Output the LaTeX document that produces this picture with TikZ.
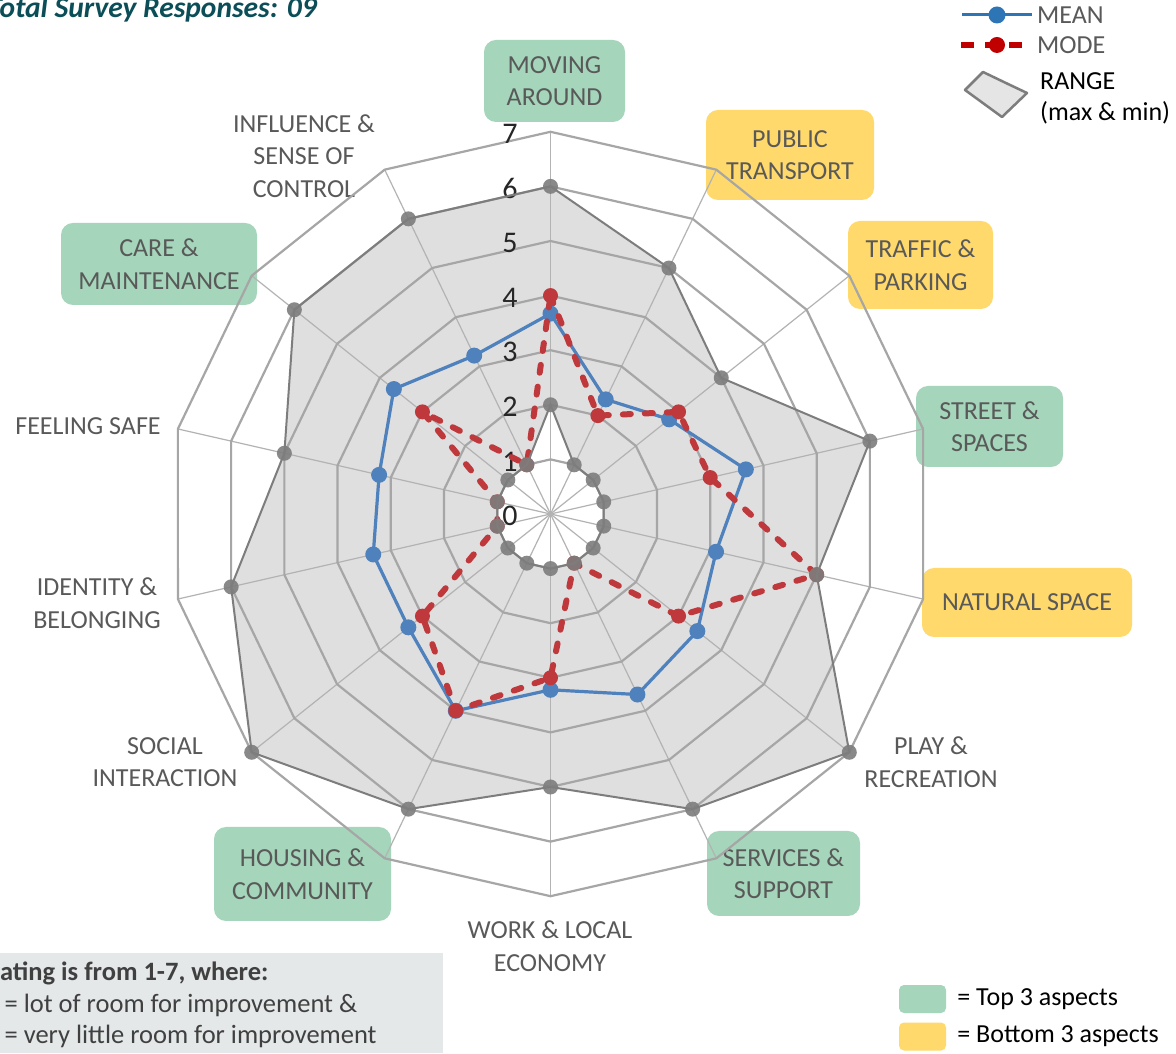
\documentclass[tikz,border=0pt]{standalone}
\usepackage{fontspec}
\setmainfont{Carlito}
\usetikzlibrary{positioning}

\definecolor{topgreen}{RGB}{165,213,186}
\definecolor{lowyellow}{RGB}{255,217,107}
\definecolor{labelgray}{RGB}{89,89,89}
\definecolor{areagray}{RGB}{223,223,223}
\definecolor{gridgray}{RGB}{166,166,166}
\definecolor{rangegray}{RGB}{125,125,125}
\definecolor{meanblue}{RGB}{79,129,189}
\definecolor{modered}{RGB}{190,56,60}
\definecolor{legblue}{RGB}{46,117,182}
\definecolor{legred}{RGB}{192,0,0}
\definecolor{notegray}{RGB}{228,232,232}
\definecolor{titleteal}{RGB}{12,78,88}

\def\unitR{54.6}

\begin{document}
\begin{tikzpicture}[x=1pt, y=1pt,
   aspect/.style={align=center, text=labelgray, font=\fontsize{26}{32.5}\selectfont, inner sep=0pt},
   topA/.style={aspect, fill=topgreen, rounded corners=12pt},
   lowA/.style={aspect, fill=lowyellow, rounded corners=12pt},
   ring/.style={draw=gridgray, line width=2.2pt},
   spoke/.style={draw=gridgray!85, line width=1.2pt},
   tick/.style={text=black!85, font=\fontsize{30}{30}\selectfont, inner sep=0pt},
   meanline/.style={draw=meanblue, line width=3.2pt, line join=round},
   modeline/.style={draw=modered, line width=6pt, line cap=round, dash pattern=on 8pt off 14pt},
   rangeline/.style={draw=rangegray, line width=2pt},
   legtext/.style={font=\fontsize{26}{31}\selectfont, inner sep=0pt},
   swatch/.style={minimum width=47pt, minimum height=28pt, rounded corners=5pt, inner sep=0pt}]
\useasboundingbox (0,0) rectangle (1176,1053);
\clip (0,0) rectangle (1176,1053);
\fill[white] (0,0) rectangle (1176,1053);

% aspect labels
\node[topA, minimum width=141pt, minimum height=82pt] (moving) at (554.5,972) {MOVING\\AROUND};
\node[lowA, minimum width=168pt, minimum height=90pt] (transport) at (790,898) {PUBLIC\\TRANSPORT};
\node[lowA, minimum width=145pt, minimum height=88pt] (traffic) at (920.5,788) {TRAFFIC \&\\PARKING};
\node[topA, minimum width=147pt, minimum height=81pt] (street) at (989.5,626.5) {STREET \&\\SPACES};
\node[lowA, minimum width=210pt, minimum height=69pt] (natural) at (1027,450.5) {NATURAL SPACE};
\node[aspect] (play) at (931,291) {PLAY \&\\RECREATION};
\node[topA, minimum width=153pt, minimum height=85pt] (services) at (783.5,179.5) {SERVICES \&\\SUPPORT};
\node[aspect] (work) at (550,107) {WORK \& LOCAL\\ECONOMY};
\node[topA, minimum width=177pt, minimum height=94pt] (housing) at (302.5,179) {HOUSING \&\\COMMUNITY};
\node[aspect] (social) at (165,291) {SOCIAL\\INTERACTION};
\node[aspect] (identity) at (97,450) {IDENTITY \&\\BELONGING};
\node[aspect] (safe) at (88,627) {FEELING SAFE};
\node[topA, minimum width=196pt, minimum height=82pt] (care) at (159,789) {CARE \&\\MAINTENANCE};
\node[aspect] (influence) at (304,897) {INFLUENCE \&\\SENSE OF\\CONTROL};

\begin{scope}[shift={(550.5,539)}]
% series values, clockwise from the top
\foreach \v [count=\i from 0] in {6,5,4,6,5,7,6,5,6,7,6,5,6,6}
  \coordinate (max\i) at ({90-\i*360/14}:{\v*\unitR});
\foreach \v [count=\i from 0] in {2,1,1,1,1,1,1,1,1,1,1,1,1,1}
  \coordinate (min\i) at ({90-\i*360/14}:{\v*\unitR});
\foreach \v [count=\i from 0] in {3.67,2.33,2.78,3.67,3.11,3.44,3.67,3.22,4,3.33,3.33,3.22,3.67,3.22}
  \coordinate (mean\i) at ({90-\i*360/14}:{\v*\unitR});
\foreach \v [count=\i from 0] in {4,2,3,3,5,3,1,3,4,3,1,1,3,1}
  \coordinate (mode\i) at ({90-\i*360/14}:{\v*\unitR});

\fill[areagray] (max0) \foreach \i in {1,...,13}{ -- (max\i)} -- cycle;
\fill[white] (min0) \foreach \i in {1,...,13}{ -- (min\i)} -- cycle;

% grid
\foreach \i in {0,...,13}
  \draw[spoke] (0,0) -- ({90-\i*360/14}:{7*\unitR});
\foreach \k in {1,...,7}
  \draw[ring] (90:{\k*\unitR}) \foreach \i in {1,...,13}{ -- ({90-\i*360/14}:{\k*\unitR})} -- cycle;
\foreach \k in {0,...,7}
  \node[tick] (tick\k) at (-40.5,{\k*\unitR-2}) {\k};

\draw[meanline] (mean0) \foreach \i in {1,...,13}{ -- (mean\i)} -- cycle;
\foreach \i in {0,...,13}
  \fill[meanblue] (mean\i) circle (8);
\draw[modeline] (mode0) \foreach \i in {1,...,13}{ -- (mode\i)} -- cycle;
\foreach \i in {0,...,13}
  \fill[modered] (mode\i) circle (7.5);

\draw[rangeline] (max0) \foreach \i in {1,...,13}{ -- (max\i)} -- cycle;
\draw[rangeline] (min0) \foreach \i in {1,...,13}{ -- (min\i)} -- cycle;
\foreach \i in {0,...,13}{
  \fill[rangegray, opacity=.9] (max\i) circle (7.5);
  \fill[rangegray, opacity=.9] (min\i) circle (7.5);
}
\end{scope}

% title
\node[font=\fontsize{29.5}{29.5}\selectfont\bfseries\itshape, text=titleteal, inner sep=0pt, anchor=base east] (total) at (317,1035) {Total Survey Responses: 09};

% series key
\coordinate (meanA) at (962,1038);
\coordinate (meanB) at (1032,1038);
\coordinate (meanM) at (997,1038);
\draw[draw=legblue, line width=3pt] (meanA) -- (meanB);
\fill[legblue] (meanM) circle (8.5);
\node[legtext, text=labelgray] (meantext) [right=5pt of meanB] {MEAN};
\coordinate (modeA) at (961,1008);
\coordinate (modeB) at (1031,1008);
\coordinate (modeM) at (997,1008);
\draw[draw=legred, line width=6pt, dash pattern=on 13pt off 11pt] (modeA) -- (modeB);
\fill[legred] (modeM) circle (8);
\node[legtext, text=labelgray] (modetext) [right=6pt of modeB] {MODE};
\draw[fill=black!10, draw=rangegray, line width=2.5pt, line join=round] (965,963) -- (983,981) -- (1008,969) -- (1027,960) -- (1002,936) -- cycle;
\node[legtext, align=left, anchor=west] (rangetext) at (1040,955) {RANGE\\(max \& min)};

% rating note
\fill[notegray] (-5,0) rectangle (443,100);
\node[legtext, text=black!75, align=left, anchor=west, font=\fontsize{26.5}{31.5}\selectfont] (note) at (-15,48) {\textbf{Rating is from 1-7, where:}\\1 = lot of room for improvement \&\\7 = very little room for improvement};

% aspect key
\node[swatch, fill=topgreen] (topkey) at (922.5,54) {};
\node[legtext] (toptext) [right=11pt of topkey] {= Top 3 aspects};
\node[swatch, fill=lowyellow] (lowkey) at (922.5,16.5) {};
\node[legtext] (lowtext) [right=11pt of lowkey] {= Bottom 3 aspects};
\end{tikzpicture}
\end{document}
